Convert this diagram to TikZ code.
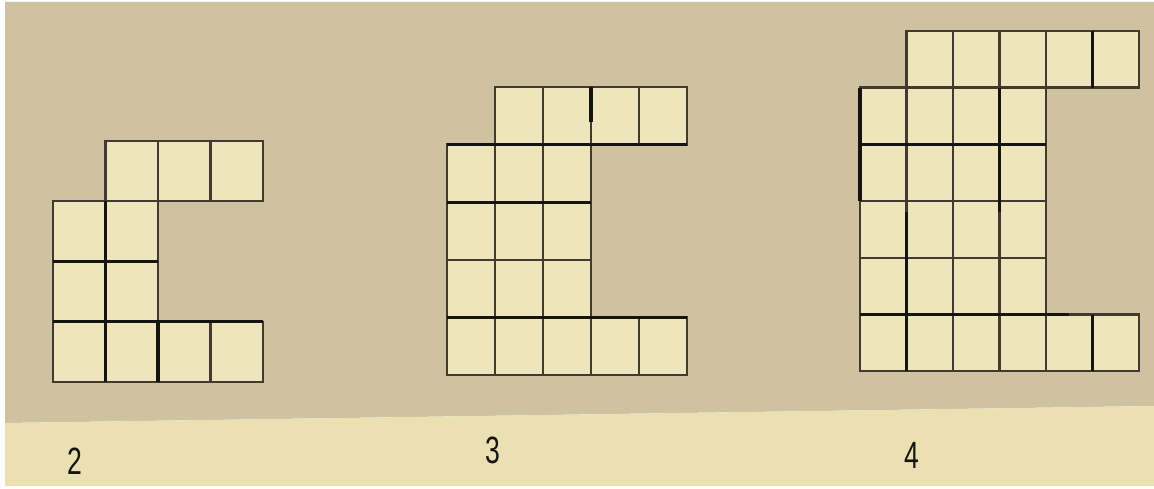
\documentclass[tikz,border=0pt]{standalone}
\usepackage{fontspec}
\usepackage{graphicx}
\setmainfont{Liberation Sans}
\usepackage{tikz}

\definecolor{specklepaper}{RGB}{206,194,160}
\definecolor{strippaper}{RGB}{235,224,178}
\definecolor{cellpaper}{RGB}{239,229,188}
\definecolor{gridgray}{RGB}{66,58,46}
\definecolor{inkblack}{RGB}{22,20,16}

\newcommand{\labelfont}{\fontsize{38}{40}\selectfont}

\begin{document}
\begin{tikzpicture}[
    x=1pt, y=-1pt,
    cellbox/.style={draw=gridgray, fill=cellpaper, line width=2.5pt},
    boldline/.style={draw=inkblack, line width=3.2pt},
    figlabel/.style={font=\labelfont, text=inkblack, inner sep=0pt},
]
\useasboundingbox (0,0) rectangle (1154,489);

% ===== PAPER =====
\fill[white] (0,0) rectangle (1154,489);
\fill[specklepaper] (5,2) -- (1154,2) -- (1154,406) -- (5,423) -- cycle;
\fill[strippaper] (5,423) -- (1154,406) -- (1154,486) -- (5,486) -- cycle;

% ===== FIGURES: top row, body, bottom row =====
\foreach \n/\ox/\oy/\cw/\ch in {2/53/141/52.5/60.25, 3/447/87/48/57.6, 4/860/31/46.5/56.7} {
  \begin{scope}[shift={(\ox,\oy)}, x=\cw pt, y=-\ch pt]
    \pgfmathtruncatemacro{\m}{\n+1}
    \pgfmathtruncatemacro{\k}{\n-1}
    \foreach \i in {1,...,\m}
      \draw[cellbox] (\i,0) rectangle ++(1,1);
    \foreach \i in {0,...,\k}
      \foreach \j in {1,...,\n}
        \draw[cellbox] (\i,\j) rectangle ++(1,1);
    \foreach \i in {0,...,\m}
      \draw[cellbox] (\i,\m) rectangle ++(1,1);
  \end{scope}
}

% ===== DARKER STROKES =====
\begin{scope}[shift={(53,141)}, x=52.5pt, y=-60.25pt]
  \draw[boldline] (0,2) -- (2,2);
  \draw[boldline] (0,3) -- (4,3);
  \draw[boldline] (1,1) -- (1,4);
  \draw[boldline] (2,3) -- (2,4);
\end{scope}
\begin{scope}[shift={(447,87)}, x=48pt, y=-57.6pt]
  \draw[boldline] (0,1) -- (5,1);
  \draw[boldline] (0,2) -- (3,2);
  \draw[boldline] (0,4) -- (5,4);
  \draw[boldline] (3,0) -- (3,0.6);
\end{scope}
\begin{scope}[shift={(860,31)}, x=46.5pt, y=-56.7pt]
  \draw[boldline] (0,1) -- (0,3);
  \draw[boldline] (0,2) -- (4,2);
  \draw[boldline] (3,1) -- (3,3.2);
  \draw[boldline] (1,3.2) -- (1,6);
  \draw[boldline] (0,5) -- (4.5,5);
  \draw[boldline] (5,0) -- (5,1);
  \draw[boldline] (5,5) -- (5,6);
\end{scope}

% ===== LABELS =====
\node[figlabel] (lbltwo) at (75,461) {\scalebox{0.7}[1]{2}};
\node[figlabel] (lblthree) at (493,450) {\scalebox{0.7}[1]{3}};
\node[figlabel] (lblfour) at (912,455) {\scalebox{0.7}[1]{4}};

\end{tikzpicture}
\end{document}
